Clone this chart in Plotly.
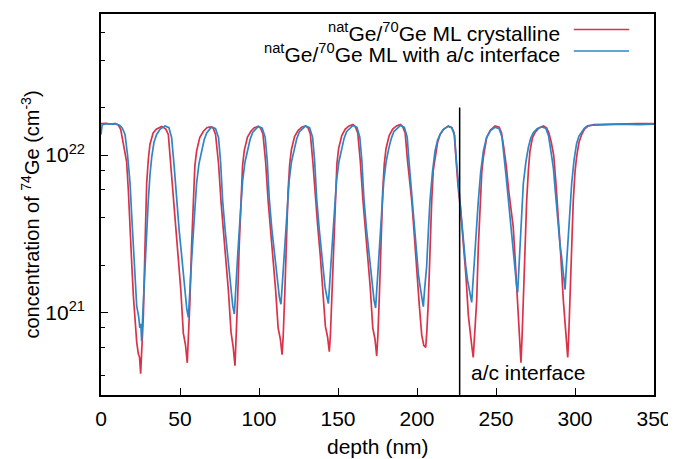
import plotly.graph_objects as go

# ---- data (depth in nm, concentration in units of 1e21 cm^-3) ----
depth_cryst = [0, 3, 6, 9, 11, 12.5, 14, 16.2, 17.3, 18.4, 19.5, 20.5, 22.6, 23.6, 24.4, 25.1, 25.8, 26.8, 27.8, 28.9, 30, 31, 33, 35, 38.4, 41, 42.6,
               44.2, 45.8, 47.3, 48.9, 50.5, 52.1, 53.5, 54.6, 55.3, 56.3, 57.3, 58.4, 59.4, 60.5, 62.5, 64.7, 67, 69, 71, 72.5,
               74.4, 76, 77.5, 79.1, 80.7, 82.3, 83.7, 84.8, 85.5, 86.5, 87.5, 88.6, 89.6, 90.7, 92.7, 95, 97, 99.5, 101, 102.5,
               104.2, 105.8, 107.3, 108.9, 110.5, 112.1, 113.5, 114.6, 115.3, 116.3, 117.3, 118.4, 119.4, 120.5, 122.5, 124.7, 127, 129.5, 131, 132.5,
               134.1, 135.7, 137.2, 138.8, 140.4, 142, 143.4, 144.5, 145.2, 146.2, 147.2, 148.3, 149.3, 150.4, 152.4, 154.6, 157, 159.5, 161, 162.5,
               164.1, 165.7, 167.2, 168.8, 170.4, 172, 173.4, 174.5, 175.2, 176.2, 177.2, 178.3, 179.3, 180.4, 182.4, 184.6, 187, 189.5, 191, 192.5,
               194, 195.5, 196.7, 198.2, 199.8, 201.5, 203, 204.3, 205.5, 206.2, 207.2, 208.2, 209.3, 210.3, 211.4, 213, 214.6, 217, 219.8, 222, 223.5,
               224.5, 226, 227.5, 229.3, 231, 232.5, 233.8, 234.8, 235.6, 236.5, 237.8, 238.8, 239.9, 241, 242, 244.1, 246.5, 249.4, 252, 253.5,
               255, 256.5, 258, 259.5, 260.9, 262, 263, 264, 265, 265.8, 266.5, 267.3, 268.3, 269.4, 270.5, 271.5, 273, 274.7, 277, 280, 282, 283.5,
               285, 286.5, 288, 289.4, 291, 292.6, 293.8, 294.6, 295.4, 296, 296.8, 297.8, 298.9, 300, 301, 302.5, 304.2, 306, 308.4, 312, 320, 330, 340, 350]
conc_cryst = [15.8, 15.9, 15.7, 15.8, 15.5, 14.5, 12.0, 9.1, 6.0, 3.2, 2.0, 1.27, 0.65, 0.55, 0.52, 0.41, 0.55, 0.95, 2.5, 6.6, 9.5, 11.7, 13.8, 14.6, 15.2, 14.6, 13.5,
              8.5, 5.1, 3.3, 2.27, 1.4, 0.74, 0.62, 0.48, 0.65, 1.2, 2.6, 5.7, 8.5, 10.6, 12.9, 14.1, 14.9, 15.1, 14.8, 13.5,
              8.8, 5.0, 3.4, 2.2, 1.35, 0.75, 0.6, 0.46, 0.65, 1.25, 2.7, 5.8, 8.6, 10.7, 13.0, 14.2, 14.9, 15.2, 14.8, 13.6,
              9.0, 5.1, 3.4, 2.3, 1.4, 0.8, 0.68, 0.54, 0.7, 1.3, 2.8, 5.9, 8.7, 10.8, 13.1, 14.3, 15.0, 15.3, 14.9, 13.6,
              9.0, 5.2, 3.5, 2.3, 1.45, 0.82, 0.7, 0.565, 0.72, 1.3, 2.8, 5.9, 8.8, 11.0, 13.3, 14.6, 15.3, 15.6, 15.1, 13.8,
              9.2, 5.3, 3.5, 2.3, 1.45, 0.8, 0.68, 0.53, 0.7, 1.3, 2.8, 5.9, 8.8, 11.0, 13.3, 14.6, 15.3, 15.6, 15.1, 13.8,
              9.2, 6.5, 5.1, 3.2, 1.8, 1.1, 0.72, 0.62, 0.6, 0.75, 1.2, 2.6, 5.1, 8.0, 9.7, 12.0, 13.5, 14.6, 15.3, 14.9, 13.8,
              9.5, 6.3, 4.6, 2.9, 1.7, 0.96, 0.7, 0.6, 0.52, 0.7, 1.2, 2.6, 5.1, 7.8, 9.7, 12.9, 14.4, 15.3, 15.0, 13.8,
              11.0, 8.5, 6.0, 4.6, 3.5, 2.3, 1.55, 0.91, 0.7, 0.48, 0.7, 1.2, 2.6, 5.1, 8.0, 10.6, 12.8, 13.9, 14.8, 15.3, 14.9, 13.8,
              12.0, 10.0, 6.5, 4.1, 2.3, 1.2, 0.8, 0.65, 0.52, 0.7, 1.2, 2.6, 5.1, 7.8, 9.7, 12.0, 13.5, 14.6, 15.3, 15.6, 15.7, 15.8, 15.8, 15.8]

depth_ac = [0, 0.7, 3, 6, 9, 12, 13.5, 15.2, 16.8, 18.4, 19.5, 20.5, 21.6, 22.6, 23.8, 24.6, 25.2, 25.7, 26.5, 27.8, 28.8, 29.9, 31, 32.1, 33.5, 35.2, 37.5, 40.5, 43, 44.7,
            46.3, 47.9, 49.5, 51.1, 52.2, 53.2, 54.3, 55.3, 55.8, 56.3, 57.4, 58.4, 59.5, 60.5, 62, 63.7, 65.3, 66.9, 70, 72.5,
            74.4, 75.7, 77, 78.6, 80.2, 81.2, 82.3, 83.4, 84.4, 84.9, 85.4, 86.5, 87.5, 88.6, 89.6, 91.1, 92.8, 94.4, 96, 99.5, 102, 103.9,
            105.2, 106.5, 108.1, 109.7, 110.7, 111.8, 112.9, 113.9, 114.4, 114.9, 116, 117, 118.1, 119.1, 120.6, 122.3, 123.9, 125.5, 129.5, 132, 133.9,
            135.2, 136.5, 138.1, 139.7, 140.7, 141.8, 142.9, 143.9, 144.4, 144.9, 146, 147, 148.1, 149.1, 150.6, 152.3, 153.9, 155.5, 159.5, 162, 163.8,
            165.1, 166.4, 168, 169.6, 170.6, 171.7, 172.8, 173.8, 174.3, 174.8, 175.9, 176.9, 178, 179, 180.5, 182.2, 183.8, 185.4, 189.5, 192, 193.8,
            194.8, 196.6, 198.2, 199.8, 200.9, 201.9, 203, 204, 204.8, 205.5, 206.1, 207.2, 208.2, 209.8, 211.4, 213, 214.6, 216.5, 219.8, 222, 223.8,
            224.8, 226.3, 228, 229.5, 230.8, 232, 233.5, 234.6, 235.5, 236.7, 237.7, 238.8, 240.3, 242, 244, 246.5, 249.4, 252, 253.8,
            254.8, 256.3, 257.6, 258.8, 260, 260.9, 262, 263, 263.7, 264.4, 265.2, 266.2, 267.3, 268.9, 270.5, 272, 273.7, 276, 278.9, 281.5, 283.3,
            284.8, 286.3, 287.8, 289.4, 290.5, 291.5, 292.6, 293.7, 294.6, 295.8, 296.8, 297.9, 299.4, 301, 302.5, 304.2, 306, 308, 312, 320, 330, 340, 350]
conc_ac = [13.5, 15.5, 15.8, 15.7, 15.8, 15.4, 14.8, 13.5, 10.0, 6.6, 4.0, 2.5, 1.6, 1.1, 0.95, 0.8, 0.85, 0.66, 1.0, 1.95, 3.2, 5.1, 7.5, 9.7, 12.0, 13.5, 14.6, 15.3, 14.9, 12.9,
           8.5, 5.1, 3.3, 2.27, 1.7, 1.33, 1.05, 0.93, 1.2, 1.55, 2.2, 3.16, 4.6, 6.6, 8.8, 10.7, 12.5, 13.8, 15.1, 14.7,
           12.9, 9.0, 5.1, 3.3, 2.3, 1.75, 1.35, 1.1, 0.98, 1.25, 1.6, 2.3, 3.3, 4.8, 6.8, 9.0, 10.9, 12.6, 13.9, 15.2, 14.8, 13.0,
           9.2, 5.3, 3.4, 2.4, 1.85, 1.45, 1.25, 1.13, 1.35, 1.7, 2.4, 3.4, 4.9, 6.9, 9.1, 11.0, 12.7, 14.0, 15.3, 14.9, 13.0,
           9.2, 5.3, 3.4, 2.4, 1.85, 1.45, 1.27, 1.14, 1.35, 1.7, 2.4, 3.4, 4.9, 6.9, 9.1, 11.1, 12.8, 14.1, 15.4, 15.0, 13.0,
           9.2, 5.3, 3.4, 2.4, 1.8, 1.4, 1.2, 1.07, 1.3, 1.65, 2.35, 3.4, 4.9, 6.9, 9.1, 11.1, 12.8, 14.1, 15.4, 15.0, 13.0,
           9.5, 5.7, 3.4, 2.16, 1.75, 1.48, 1.25, 1.09, 1.4, 1.7, 1.96, 3.3, 5.1, 7.8, 10.6, 12.4, 13.5, 14.5, 15.2, 14.9, 13.3,
           9.5, 6.3, 4.0, 2.8, 2.0, 1.6, 1.3, 1.16, 1.6, 2.5, 3.6, 5.1, 7.8, 10.6, 12.9, 14.3, 15.0, 14.7, 13.0,
           10.0, 7.5, 5.5, 4.1, 2.9, 2.27, 1.8, 1.5, 1.34, 1.9, 2.9, 4.3, 6.6, 9.0, 11.2, 12.8, 13.9, 14.7, 15.1, 14.8, 13.2,
           10.5, 8.3, 5.5, 3.5, 2.7, 2.27, 1.75, 1.4, 2.0, 3.16, 4.6, 6.6, 9.3, 11.8, 13.2, 14.1, 14.8, 15.3, 15.5, 15.6, 15.7, 15.6, 15.7]

conc_unit = 1e21
interface_depth = 227
interface_top = 2e22
series_names = ["<sup>nat</sup>Ge/<sup>70</sup>Ge ML crystalline",
                "<sup>nat</sup>Ge/<sup>70</sup>Ge ML with a/c interface"]
x_ticks = [0, 50, 100, 150, 200, 250, 300, 350]
y_major = [1e21, 1e22]
y_major_text = ["10<sup>21</sup>", "10<sup>22</sup>"]
y_minor = [2e20, 4e20, 6e20, 8e20, 2e21, 4e21, 6e21, 8e21, 2e22, 4e22, 6e22, 8e22]

RED = "#dc3249"
BLUE = "#2f86c6"
FONT = "Liberation Sans, Arial, sans-serif"
FS = 21

fig = go.Figure()
fig.add_trace(go.Scatter(x=depth_cryst, y=[v * conc_unit for v in conc_cryst], mode="lines",
                         line=dict(color=RED, width=1.7), name=series_names[0], showlegend=False))
fig.add_trace(go.Scatter(x=depth_ac, y=[v * conc_unit for v in conc_ac], mode="lines",
                         line=dict(color=BLUE, width=1.7), name=series_names[1], showlegend=False))
fig.add_trace(go.Scatter(x=[interface_depth, interface_depth], y=[1e20, interface_top], mode="lines",
                         line=dict(color="black", width=1.5), showlegend=False, hoverinfo="skip"))

# legend drawn gnuplot-style (text right-aligned, sample line on the right)
leg_rows = [0.959, 0.903]
for name, col, yy in zip(series_names, [RED, BLUE], leg_rows):
    fig.add_annotation(xref="paper", yref="paper", x=0.834, y=yy - 0.006, text=name, showarrow=False,
                       xanchor="right", yanchor="middle", font=dict(family=FONT, size=FS, color="black"))
    fig.add_shape(type="line", xref="paper", yref="paper", x0=0.855, x1=0.955, y0=yy, y1=yy,
                  line=dict(color=col, width=1.5))

fig.add_annotation(xref="x", yref="paper", x=233, y=0.06, text="a/c interface", showarrow=False,
                   xanchor="left", yanchor="middle", font=dict(family=FONT, size=FS, color="black"))
fig.add_annotation(xref="paper", yref="paper", x=0.5, y=-0.135, text="depth (nm)", showarrow=False,
                   xanchor="center", yanchor="middle", font=dict(family=FONT, size=FS, color="black"))
fig.add_annotation(xref="paper", yref="paper", x=-0.127, y=0.473, text="concentration of <sup>74</sup>Ge (cm<sup>-3</sup>)",
                   showarrow=False, textangle=-90, xanchor="center", yanchor="middle",
                   font=dict(family=FONT, size=20, color="black"))

fig.update_layout(
    width=676, height=459,
    margin=dict(l=93, r=30, t=4, b=72),
    paper_bgcolor="white", plot_bgcolor="white",
    font=dict(family=FONT, size=FS, color="black"),
    xaxis=dict(range=[0, 350], tickvals=x_ticks, ticks="inside", ticklen=7, tickwidth=1, tickcolor="black",
               showline=True, linecolor="black", linewidth=1.5, mirror=True, showgrid=False, zeroline=False,
               ticklabelstandoff=4),
    yaxis=dict(type="log", range=[20.477, 22.895], tickvals=y_major, ticktext=y_major_text,
               ticks="inside", ticklen=7, tickwidth=1, tickcolor="black",
               minor=dict(tickmode="array", tickvals=y_minor, ticks="inside", ticklen=4, tickcolor="black", showgrid=False),
               showline=True, linecolor="black", linewidth=1.5, mirror=True, showgrid=False, zeroline=False,
               ticklabelstandoff=10),
)

fig.write_html("out.html")
